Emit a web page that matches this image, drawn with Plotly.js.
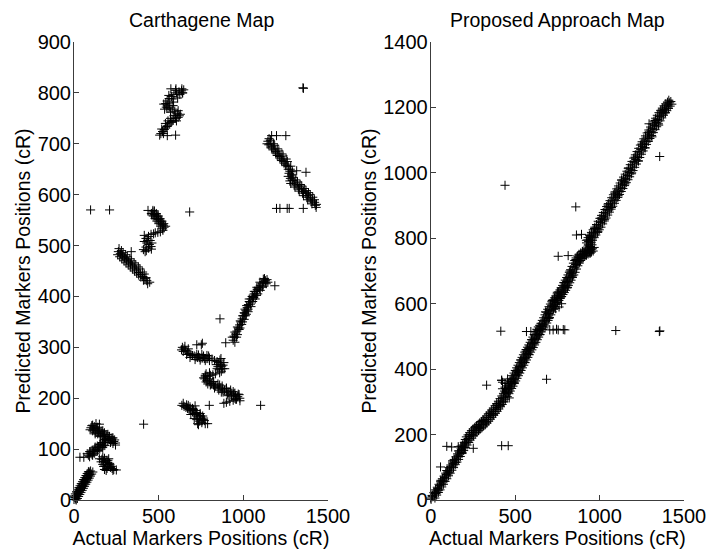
<!DOCTYPE html>
<html>
<head>
<meta charset="utf-8">
<script src="https://cdn.plot.ly/plotly-3.0.1.min.js"></script>
<style>
  html, body { margin: 0; padding: 0; background: #fff; }
  #chart { width: 709px; height: 552px; }
</style>
</head>
<body>
<div id="chart"></div>
<script>
// Carthagene map: actual vs predicted marker positions (cR), grouped by linkage block
const carthActual = [
  // block near the origin
  0,7,14,21,28,35,42,49,56,63,70,77,84,91,98, 10,24,38,52,66,80,94, 2,18,32,46,60,74,88,
  13,20,27,34,41,48,55,62,69,76,83,90,97,104,111, 1,8,15,22,29,36,43,50,57,64,71,78,85,
  // blocks around 100 cR
  35,58, 85,100,115,130,145,160,175,185,95,125,155,110,140,170,
  92,107,122,137,152,167,182, 78,93,108,123,138,153,168,180,
  100,115,130,145,160,175,190,205,220,235,245,110,140,170,200,230,125,155,185,215,130,150,
  105,120,135,150,165,180,195,210,225,240, 95,110,125,140,155,170,185,200,215,230,245,
  150,205,165,175,185,195,205,215,225,180,190,200,170,195,210,185,250,180,230,
  170,200,220,235,175,190,160,212,
  // block between 430 and 570 cR
  98,210,683,437,466,427,457,338,447,
  466,477,488,499,510,521,532,475,495,515,528,460,
  486,497,508,519,530,541, 457,468,479,490,501,512,523,
  525,510,495,480,470,
  455,440,425,415,430,445,455,440,425,410,420,450,435,460,415,
  262,274,286,298,310,322,334,346,358,370,382,394,406,418,430,270,295,320,345,370,395,280,305,330,355,380,405,425,
  266,290,315,340,365,390,415,258,282,307,332,357,382,410,435,
  // block between 715 and 810 cR
  506,551,600,572,602,637,
  513,523,533,542,552,562,572,585,600,615,622,610,595,580,565,550,542,550,562,575,590,605,620,635,648,
  518,528,540,555,570,590,605,615,585,560,545,560,580,600,625,640,
  525,548,578,598,628,570,555,535,588,612,642,530,
  // block between 575 and 715 cR
  1167,1196,1251,1352,1355,1196,1216,1259,1271,1354,1315,1370,
  1145,1157,1169,1181,1193,1205,1217,1229,1241,1253,1265,1277,1290,1150,1175,1200,1225,1250,1275,1160,1185,1210,1235,1260,
  1152,1178,1203,1228,1253,1280, 1140,1166,1190,1215,1240,1265,1285,
  1265,1278,1291,1304,1317,1330,1343,1356,1369,1382,1395,1408,1421,1432,1275,1300,1325,1350,1375,1400,1425,1285,1310,1335,1360,1385,1410,
  1270,1295,1320,1345,1370,1395,1420, 1280,1305,1330,1355,1380,1405,1430,
  // block between 310 and 430 cR
  1186,862,758,896,
  940,948,955,962,970,978,985,993,1000,1008,1015,1023,1030,1038,1046,1055,1064,1073,1082,1091,1100,1110,1120,1130,1140,
  945,960,975,990,1005,1018,1028,1045,1055,1070,1085,1100,1115,1135,1125,1010,1035,
  950,965,980,995,1012,1028,1042,1060,1078,1095,1112,1130,1145,
  935,950,965,982,997,1005,1020,1035,1052,1065,1080,1098,1118,
  // block between 190 and 305 cR
  725,752,
  640,650,660,670,680,690,700,645,655,665,675,635,685,
  710,720,730,740,750,760,770,780,790,800,735,765,795,
  715,745,775,800,725,755,785,
  815,830,845,855,865,872,878,870,860,850,862,880,845,
  840,858,885,890,868,
  835,820,805,790,775,765,800,780,
  772,785,798,811,824,837,850,863,876,889,902,915,928,941,954,967,979,790,830,870,910,950,975,820,860,900,940,
  775,800,825,850,875,900,925,950,970, 780,805,830,855,880,905,930,955,980,
  960,940,920,900,885,
  // block between 150 and 190 cR
  637,650,661,670,680,690,700,710,720,730,740,750,760,770,690,710,720,740,730,760,700,675,715,745,725,
  645,665,685,705,725,745,765,775,735,755,
  799,789,1102,411
];
const carthPredicted = [
  1,5,9,13,17,21,25,29,33,37,41,45,49,53,57, 2,11,19,27,35,43,50, 6,16,24,32,40,48,56,
  0,3,7,11,15,19,23,27,31,35,39,43,47,51,55, 8,12,16,20,24,28,32,36,40,44,48,52,55,
  84,84, 88,92,95,99,103,106,110,113,95,104,110,88,97,104,
  85,89,92,96,100,103,107, 91,95,98,102,106,109,113,116,
  142,140,137,134,131,128,124,121,118,115,112,147,143,136,129,122,130,125,119,113,150,149,
  146,144,141,138,135,132,128,125,122,118, 138,136,133,130,127,124,120,117,114,111,108,
  81,81,80,76,73,70,67,64,62,82,78,74,70,62,72,66,59,60,58,
  85,78,66,60,66,58,75,70,
  570,570,566,569,569,490,493,488,428,
  566,561,556,551,546,541,536,568,558,548,540,560,
  563,558,553,548,543,538, 563,558,553,548,543,538,533,
  530,527,526,525,523,
  522,518,514,508,505,502,498,495,497,492,488,510,510,505,520,
  488,484,480,476,472,468,464,460,456,452,447,443,439,435,431,478,470,462,454,446,438,490,482,474,466,458,448,437,
  494,486,478,470,462,454,444,482,474,466,458,450,442,432,425,
  717,716,717,808,808,808,
  720,724,728,731,735,739,742,746,750,752,755,760,764,768,772,776,779,784,789,793,797,800,802,804,806,
  729,720,740,745,750,755,745,765,775,780,772,795,788,805,797,800,
  724,734,744,756,758,762,770,768,782,790,800,778,
  716,716,716,810,809,573,573,573,573,573,647,644,
  705,700,695,690,685,680,675,670,665,660,655,650,645,698,688,677,667,657,646,707,697,686,676,665,
  710,700,690,680,670,656, 700,692,682,672,662,650,640,
  636,632,628,623,619,615,611,606,602,598,593,589,585,581,627,619,611,603,595,586,579,637,629,620,612,604,595,
  642,634,625,617,608,600,590, 622,615,607,598,590,582,575,
  421,356,308,309,
  314,320,326,332,338,344,350,356,362,367,372,378,384,389,395,400,405,410,414,418,422,426,429,431,433,
  322,320,335,345,355,365,375,380,390,395,405,412,420,425,435,375,395,
  310,325,338,350,362,370,385,398,402,415,418,428,428,
  320,330,340,352,362,368,382,390,400,410,418,428,434,
  305,305,
  300,297,294,291,288,286,284,292,302,286,297,295,280,
  283,281,280,280,279,279,278,278,278,279,285,283,283,
  276,275,274,274,286,286,284,
  277,274,272,270,267,263,258,253,250,262,275,265,258,
  266,256,270,258,278,
  248,246,245,243,242,240,250,248,
  238,235,232,229,226,224,222,220,218,216,214,212,210,207,205,203,200,228,220,212,205,200,207,232,226,220,213,
  245,238,233,228,224,219,216,210,208, 232,226,222,216,212,208,204,198,195,
  198,196,194,192,190,
  186,184,182,180,178,176,173,170,168,165,163,160,158,156,168,160,176,155,150,165,180,186,185,170,158,
  190,187,183,178,172,166,161,150,148,152,
  186,150,186,149
];

// Proposed approach map: actual vs predicted marker positions (cR)
const proposedActual = [
  // main diagonal, lower part
  2,12,22,32,42,52,62,72,82,92,102,112,122,132,142,152,162,172,182,192,202,212,
  25,35,45,55,65,75,85,95,105,115,125,135,145,155,165,175,185,195,205,215,225,
  0,9,19,29,39,49,59,69,79,89,99,109,119,129,139,149,159,169,179,189,199,
  8,28,45,60,78,95,110,130,148,165,185,205,
  222,232,242,252,262,272,282,292,302,312,322,332,342,352,362,372,382,392,402,412,422,432,442,
  233,243,253,263,273,283,293,303,313,323,333,343,353,363,373,383,393,403,413,423,433,443,453,
  211,221,231,241,251,261,271,281,291,301,311,321,331,341,351,361,371,381,391,401,411,421,431,
  230,250,270,290,310,330,350,370,390,410,430,200,180,
  // main diagonal, middle part
  450,458,466,474,482,490,498,506,514,522,530,538,546,554,562,570,578,586,594,602,610,618,626,634,642,650,658,666,
  463,471,479,487,495,503,511,519,527,535,543,551,559,567,575,583,591,599,607,615,623,631,639,647,655,663,671,679,
  437,445,453,461,469,477,485,493,501,509,517,525,533,541,549,557,565,573,581,589,597,605,613,621,629,637,645,653,
  445,460,475,495,505,520,535,555,565,580,600,615,630,645,425,440,425,440,455,420,
  674,682,690,698,706,714,722,730,738,746,754,762,770,778,786,794,802,810,818,826,834,842,
  687,695,703,711,719,727,735,743,751,759,767,775,783,791,799,807,815,823,831,839,847,855,
  661,669,677,685,693,701,709,717,725,733,741,749,757,765,773,781,789,797,805,813,821,829,
  680,700,720,735,750,770,790,810,825,840,740,760,775,
  850,858,866,874,882,890,900,910,920,930,940,950,958,945,935,935,945,955,965,975,985,995,
  863,871,879,887,895,903,912,922,932,942,952,962,968,955,948,948,958,968,978,988,998,1008,
  837,845,853,861,869,878,888,898,908,918,928,938,946,933,923,922,932,942,952,962,972,982,
  860,880,900,920,945,930,950,970,990,
  // main diagonal, upper part
  1005,1015,1025,1035,1045,1055,1065,1075,1085,1095,1105,1115,1125,1135,1145,1155,1165,1175,1185,1195,1205,
  1215,1225,1235,1245,1255,1265,1275,1285,1295,1305,1315,1325,1335,1345,1355,1365,1375,1385,1395,1405,1415,1422,
  1018,1028,1038,1048,1058,1068,1078,1088,1098,1108,1118,1128,1138,1148,1158,1168,1178,1188,1198,1208,1218,
  1228,1238,1248,1258,1268,1278,1288,1298,1308,1318,1328,1338,1348,1358,1368,1378,1388,1398,1408,1418,1428,
  992,1002,1012,1022,1032,1042,1052,1062,1072,1082,1092,1102,1112,1122,1132,1142,1152,1162,1172,1182,1192,
  1202,1212,1222,1232,1242,1252,1262,1272,1282,1292,1302,1312,1322,1332,1342,1352,1362,1372,1382,1392,1402,
  1010,1030,1050,1070,1090,1110,1130,1150,1170,1190,1210,1230,1250,1270,1290,1310,1330,1350,1370,1390,1410,
  // scattered markers
  58,95,124,163,252,420,459,331,420,465,686,440,859,863,893,942,755,814,1356,1293,
  415,567,593,705,725,745,755,785,794,1096,1354,1357
];
const proposedPredicted = [
  2,10,19,27,35,44,52,61,69,78,86,95,103,112,120,128,137,146,155,164,172,180,
  6,15,23,31,40,48,57,65,74,82,91,99,108,116,124,133,142,151,160,168,176,
  6,14,23,31,39,48,56,65,73,82,90,99,107,116,124,132,141,150,159,168,176,
  12,20,30,60,58,90,85,120,115,150,145,185,
  188,194,201,207,212,217,222,226,231,235,240,246,252,258,264,270,276,283,290,297,305,313,321,
  183,189,196,202,207,212,217,221,226,230,235,241,247,253,259,265,271,278,285,292,300,308,316,
  193,199,206,212,217,222,227,231,236,240,245,251,257,263,269,275,281,288,295,302,310,318,326,
  200,198,225,218,243,238,265,262,290,288,300,160,165,
  329,337,345,352,360,368,376,384,392,400,408,416,424,432,440,448,456,463,470,478,486,494,502,510,518,525,530,536,
  325,333,341,348,356,364,372,380,388,396,404,412,420,428,436,444,452,459,466,474,482,490,498,506,514,521,526,532,
  333,341,349,356,364,372,380,388,396,404,412,420,428,436,444,452,460,467,474,482,490,498,506,514,522,529,534,540,
  340,330,362,360,395,390,428,420,455,445,490,480,520,505,340,345,360,356,370,366,
  545,553,562,570,579,587,595,602,608,614,620,626,632,638,645,652,660,668,676,684,692,700,
  541,549,558,566,575,583,591,598,604,610,616,622,628,634,641,648,656,664,672,680,688,696,
  549,557,566,574,583,591,599,606,612,618,624,630,636,642,649,656,664,672,680,688,696,704,
  575,555,610,590,635,620,665,650,700,685,585,590,600,
  710,720,728,736,742,746,750,754,757,760,763,766,768,775,782,790,798,806,814,822,830,838,
  706,716,724,732,738,742,745,749,752,755,758,761,772,780,786,794,794,802,810,818,826,834,
  714,724,732,740,746,751,755,759,762,765,768,771,773,779,786,794,802,810,818,826,834,842,
  735,728,760,748,755,795,788,830,820,
  848,857,866,875,884,893,902,911,920,929,938,947,956,965,974,983,992,1001,1011,1021,1031,
  1041,1051,1061,1071,1081,1091,1100,1109,1118,1127,1136,1145,1154,1163,1172,1180,1187,1194,1201,1208,1214,1218,
  844,853,862,871,880,889,898,907,916,925,934,943,952,961,970,979,988,997,1007,1017,1027,
  1037,1047,1057,1067,1077,1087,1096,1105,1114,1123,1132,1141,1150,1159,1168,1176,1183,1190,1197,1204,1210,
  852,861,870,879,888,897,906,915,924,933,942,951,960,969,978,987,996,1005,1015,1025,1035,
  1045,1055,1065,1075,1085,1095,1104,1113,1122,1131,1140,1149,1158,1167,1176,1184,1191,1198,1205,1211,1216,
  862,858,902,894,938,930,978,966,1014,1000,1048,1036,1088,1076,1124,1110,1160,1146,1192,1184,1222,
  101,164,162,163,158,166,166,351,366,312,369,962,896,810,812,808,745,747,1050,1150,
  516,515,515,520,520,522,520,521,520,518,515,517
];

const xTicks = [0, 500, 1000, 1500];
const carthTicks = [0, 100, 200, 300, 400, 500, 600, 700, 800, 900];
const proposedTicks = [0, 200, 400, 600, 800, 1000, 1200, 1400];

const FONT = 'Liberation Sans, Arial, Helvetica, sans-serif';
const TICK_TEXT = { family: FONT, size: 20, color: '#000' };
const LABEL_TEXT = { family: FONT, size: 19.5, color: '#000' };

const markerStyle = {
  symbol: 'cross-thin-open',
  size: 6.5,
  color: '#000',
  line: { color: '#000', width: 1 }
};

const traces = [
  { x: carthActual, y: carthPredicted, type: 'scatter', mode: 'markers',
    marker: markerStyle, cliponaxis: false, xaxis: 'x', yaxis: 'y', hoverinfo: 'x+y' },
  { x: proposedActual, y: proposedPredicted, type: 'scatter', mode: 'markers',
    marker: markerStyle, cliponaxis: false, xaxis: 'x2', yaxis: 'y2', hoverinfo: 'x+y' }
];

function axisStyle(extra) {
  return Object.assign({
    showline: true, linecolor: '#3c3c3c', linewidth: 1,
    ticks: 'inside', ticklen: 5, tickwidth: 1, tickcolor: '#3c3c3c',
    showgrid: false, zeroline: false,
    tickfont: TICK_TEXT
  }, extra);
}

const layout = {
  width: 709, height: 552,
  margin: { l: 74, r: 25, t: 42, b: 52 },
  paper_bgcolor: '#fff', plot_bgcolor: '#fff',
  showlegend: false,
  font: LABEL_TEXT,
  xaxis: axisStyle({ domain: [0, 0.4164], range: [0, 1500], tickvals: xTicks, anchor: 'y', ticklabelstandoff: -2,
    title: { text: 'Actual Markers Positions (cR)', standoff: 3, font: LABEL_TEXT } }),
  yaxis: axisStyle({ domain: [0, 1], range: [0, 900], tickvals: carthTicks, anchor: 'x', ticklabelstandoff: -2,
    title: { text: 'Predicted Markers Positions (cR)', standoff: 1, font: LABEL_TEXT } }),
  xaxis2: axisStyle({ domain: [0.5848, 1], range: [0, 1500], tickvals: xTicks, anchor: 'y2', ticklabelstandoff: -2,
    title: { text: 'Actual Markers Positions (cR)', standoff: 3, font: LABEL_TEXT } }),
  yaxis2: axisStyle({ domain: [0, 1], range: [0, 1400], tickvals: proposedTicks, anchor: 'x2', ticklabelstandoff: -2,
    title: { text: 'Predicted Markers Positions (cR)', standoff: 1, font: LABEL_TEXT } }),
  annotations: [
    { text: 'Carthagene Map', xref: 'paper', yref: 'paper', x: 0.2082, y: 1, yshift: 22,
      xanchor: 'center', yanchor: 'middle', showarrow: false, font: LABEL_TEXT },
    { text: 'Proposed Approach Map', xref: 'paper', yref: 'paper', x: 0.7924, y: 1, yshift: 22,
      xanchor: 'center', yanchor: 'middle', showarrow: false, font: LABEL_TEXT }
  ]
};

Plotly.newPlot('chart', traces, layout, { displayModeBar: false, staticPlot: true });
</script>
</body>
</html>
